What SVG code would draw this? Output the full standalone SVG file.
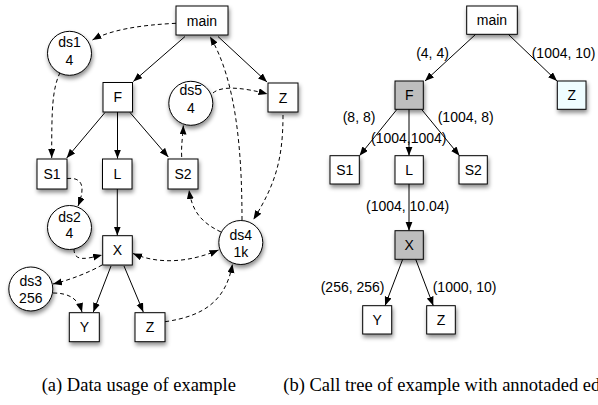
<svg xmlns="http://www.w3.org/2000/svg" width="598" height="405" viewBox="0 0 598 405">
<style>
.box{fill:#fff;stroke:#000;stroke-width:1;filter:url(#sh)}
.gray{fill:#bebebe}
.cyan{fill:#effdff}
.t{font-family:"Liberation Sans",Arial,sans-serif;font-size:14px;fill:#000;text-anchor:middle}
.lb{font-family:"Liberation Sans",Arial,sans-serif;font-size:14px;fill:#000}
.cap{font-family:"Liberation Serif","Times New Roman",serif;font-size:18.5px;fill:#000}
.s{fill:none;stroke:#000;stroke-width:1;marker-end:url(#ah)}
.d{fill:none;stroke:#000;stroke-width:1;stroke-dasharray:4 3;marker-end:url(#ah)}
</style>
<defs>
<filter id="sh" x="-30%" y="-30%" width="160%" height="170%">
<feDropShadow dx="1" dy="3" stdDeviation="2" flood-color="#000" flood-opacity="0.45"/>
</filter>
<marker id="ah" markerUnits="userSpaceOnUse" markerWidth="10" markerHeight="8" refX="9" refY="3.5" orient="auto-start-reverse">
<path d="M0,0 L9,3.5 L0,7 z" fill="#000"/>
</marker>
</defs>

<g id="connectors">
<!-- left solid -->
<path class="s" d="M185,36.5 L133.3,81.5"/>
<path class="s" d="M218,36.5 L267,82"/>
<path class="s" d="M105,112.5 L66.7,158"/>
<path class="s" d="M117.5,112 L117.5,158.5"/>
<path class="s" d="M130,112.5 L168.3,157"/>
<path class="s" d="M117.3,189 L117.3,235.5"/>
<path class="s" d="M111,266 L93.3,312"/>
<path class="s" d="M124,266 L143.3,312"/>
<!-- left dashed -->
<path class="d" d="M176,23.3 C140,25 110,30 92.5,40"/>
<path class="d" d="M60,72.5 C52,90 51.7,110 51.7,158"/>
<path class="d" d="M67,178.5 C82,177 86,186 78,206"/>
<path class="d" d="M74,249 C74,262 86,259 102,255"/>
<path class="d" d="M102,265 C90,272 70,280 53,284"/>
<path class="d" d="M53,293 C68,293 78,298 82,312"/>
<path class="d" style="marker-start:url(#ah)" d="M133,253.5 C160,265 190,262 218.5,250"/>
<path class="d" d="M165,321.7 C205,316 226,300 232.5,264"/>
<path class="d" d="M221,232 C200,222 192,210 189,190"/>
<path class="d" d="M242,220 C242,150 236,80 210,36.5"/>
<path class="d" d="M283,115 C283,160 275,185 253.5,219.5"/>
<path class="d" d="M181.7,157 C181,145 183,135 183.3,125.5"/>
<path class="d" d="M213,93 C222,85 245,88 267.5,94"/>
<!-- right solid -->
<path class="s" d="M475.7,34.3 L425,81"/>
<path class="s" d="M508.3,34.3 L557,81"/>
<path class="s" d="M397,109.3 L359.5,155.7"/>
<path class="s" d="M409,109.3 L409,155.7"/>
<path class="s" d="M421.5,109.3 L459.5,155.7"/>
<path class="s" d="M409,184 L409,230.7"/>
<path class="s" d="M402.7,259.3 L385,305.7"/>
<path class="s" d="M415.7,259.3 L433.3,305.7"/>
</g>

<!-- left diagram nodes -->
<g id="a-main"><rect class="box" x="176" y="6" width="52" height="29"/><text class="t" x="202" y="25.5">main</text></g>
<g id="a-ds1"><circle class="box" cx="69.5" cy="53.3" r="22"/><text class="t" x="69.5" y="46.5">ds1</text><text class="t" x="69.5" y="65">4</text></g>
<g id="a-F"><rect class="box" x="103" y="82.5" width="29.5" height="29.5"/><text class="t" x="117.7" y="102.2">F</text></g>
<g id="a-ds5"><circle class="box" cx="190.8" cy="103.3" r="22"/><text class="t" x="190.8" y="95">ds5</text><text class="t" x="190.8" y="113">4</text></g>
<g id="a-Z"><rect class="box" x="268" y="83" width="30" height="29"/><text class="t" x="283" y="102.5">Z</text></g>
<g id="a-S1"><rect class="box" x="37" y="159" width="30" height="30"/><text class="t" x="52" y="179">S1</text></g>
<g id="a-L"><rect class="box" x="102.5" y="159" width="29.5" height="30"/><text class="t" x="117.3" y="179">L</text></g>
<g id="a-S2"><rect class="box" x="168" y="159" width="30" height="30"/><text class="t" x="183" y="179">S2</text></g>
<g id="a-ds2"><circle class="box" cx="69.5" cy="227.5" r="22"/><text class="t" x="69.5" y="222">ds2</text><text class="t" x="69.5" y="238">4</text></g>
<g id="a-X"><rect class="box" x="102.7" y="235.7" width="29.6" height="29.3"/><text class="t" x="117.5" y="255.3">X</text></g>
<g id="a-ds4"><circle class="box" cx="240.8" cy="242.5" r="22"/><text class="t" x="240.8" y="240">ds4</text><text class="t" x="240.8" y="256.5">1k</text></g>
<g id="a-ds3"><circle class="box" cx="30.8" cy="289" r="22"/><text class="t" x="30.8" y="285.5">ds3</text><text class="t" x="30.8" y="303">256</text></g>
<g id="a-Y"><rect class="box" x="69.3" y="312.7" width="30" height="29"/><text class="t" x="84.3" y="332.2">Y</text></g>
<g id="a-Z2"><rect class="box" x="135" y="312.7" width="30" height="29"/><text class="t" x="150" y="332.2">Z</text></g>

<!-- right diagram nodes -->
<g id="b-main"><rect class="box" x="466.7" y="6" width="50.6" height="28.3"/><text class="t" x="492" y="25">main</text></g>
<g id="b-F"><rect class="box gray" x="395" y="81" width="28.3" height="28.3"/><text class="t" x="409.2" y="100">F</text></g>
<g id="b-Z"><rect class="box cyan" x="557.3" y="81" width="28.7" height="28.3"/><text class="t" x="571.7" y="100">Z</text></g>
<g id="b-S1"><rect class="box" x="330" y="155.7" width="29.3" height="28.3"/><text class="t" x="344.7" y="174.8">S1</text></g>
<g id="b-L"><rect class="box" x="395" y="155.7" width="28.3" height="28.3"/><text class="t" x="409.2" y="174.8">L</text></g>
<g id="b-S2"><rect class="box" x="459" y="155.7" width="28.3" height="28.3"/><text class="t" x="473.2" y="174.8">S2</text></g>
<g id="b-X"><rect class="box gray" x="395" y="230.7" width="28.3" height="28.6"/><text class="t" x="409.2" y="250">X</text></g>
<g id="b-Y"><rect class="box" x="362.7" y="305.7" width="29" height="28.3"/><text class="t" x="377.2" y="324.8">Y</text></g>
<g id="b-Z2"><rect class="box" x="426.7" y="305.7" width="28.6" height="28.3"/><text class="t" x="441" y="324.8">Z</text></g>

<g id="edge-labels">
<text class="lb" x="432.5" y="58" text-anchor="middle">(4, 4)</text>
<text class="lb" x="531.7" y="58">(1004, 10)</text>
<text class="lb" x="342.7" y="121.5">(8, 8)</text>
<text class="lb" x="437.7" y="121.5">(1004, 8)</text>
<text class="lb" x="371" y="143">(1004,1004)</text>
<text class="lb" x="366" y="211">(1004, 10.04)</text>
<text class="lb" x="320.7" y="291.5">(256, 256)</text>
<text class="lb" x="432.7" y="291.5">(1000, 10)</text>
</g>

<g id="captions">
<text class="cap" x="41.7" y="391">(a) Data usage of example</text>
<text class="cap" x="283.3" y="391">(b) Call tree of example with annotaded ed</text>
</g>
</svg>
